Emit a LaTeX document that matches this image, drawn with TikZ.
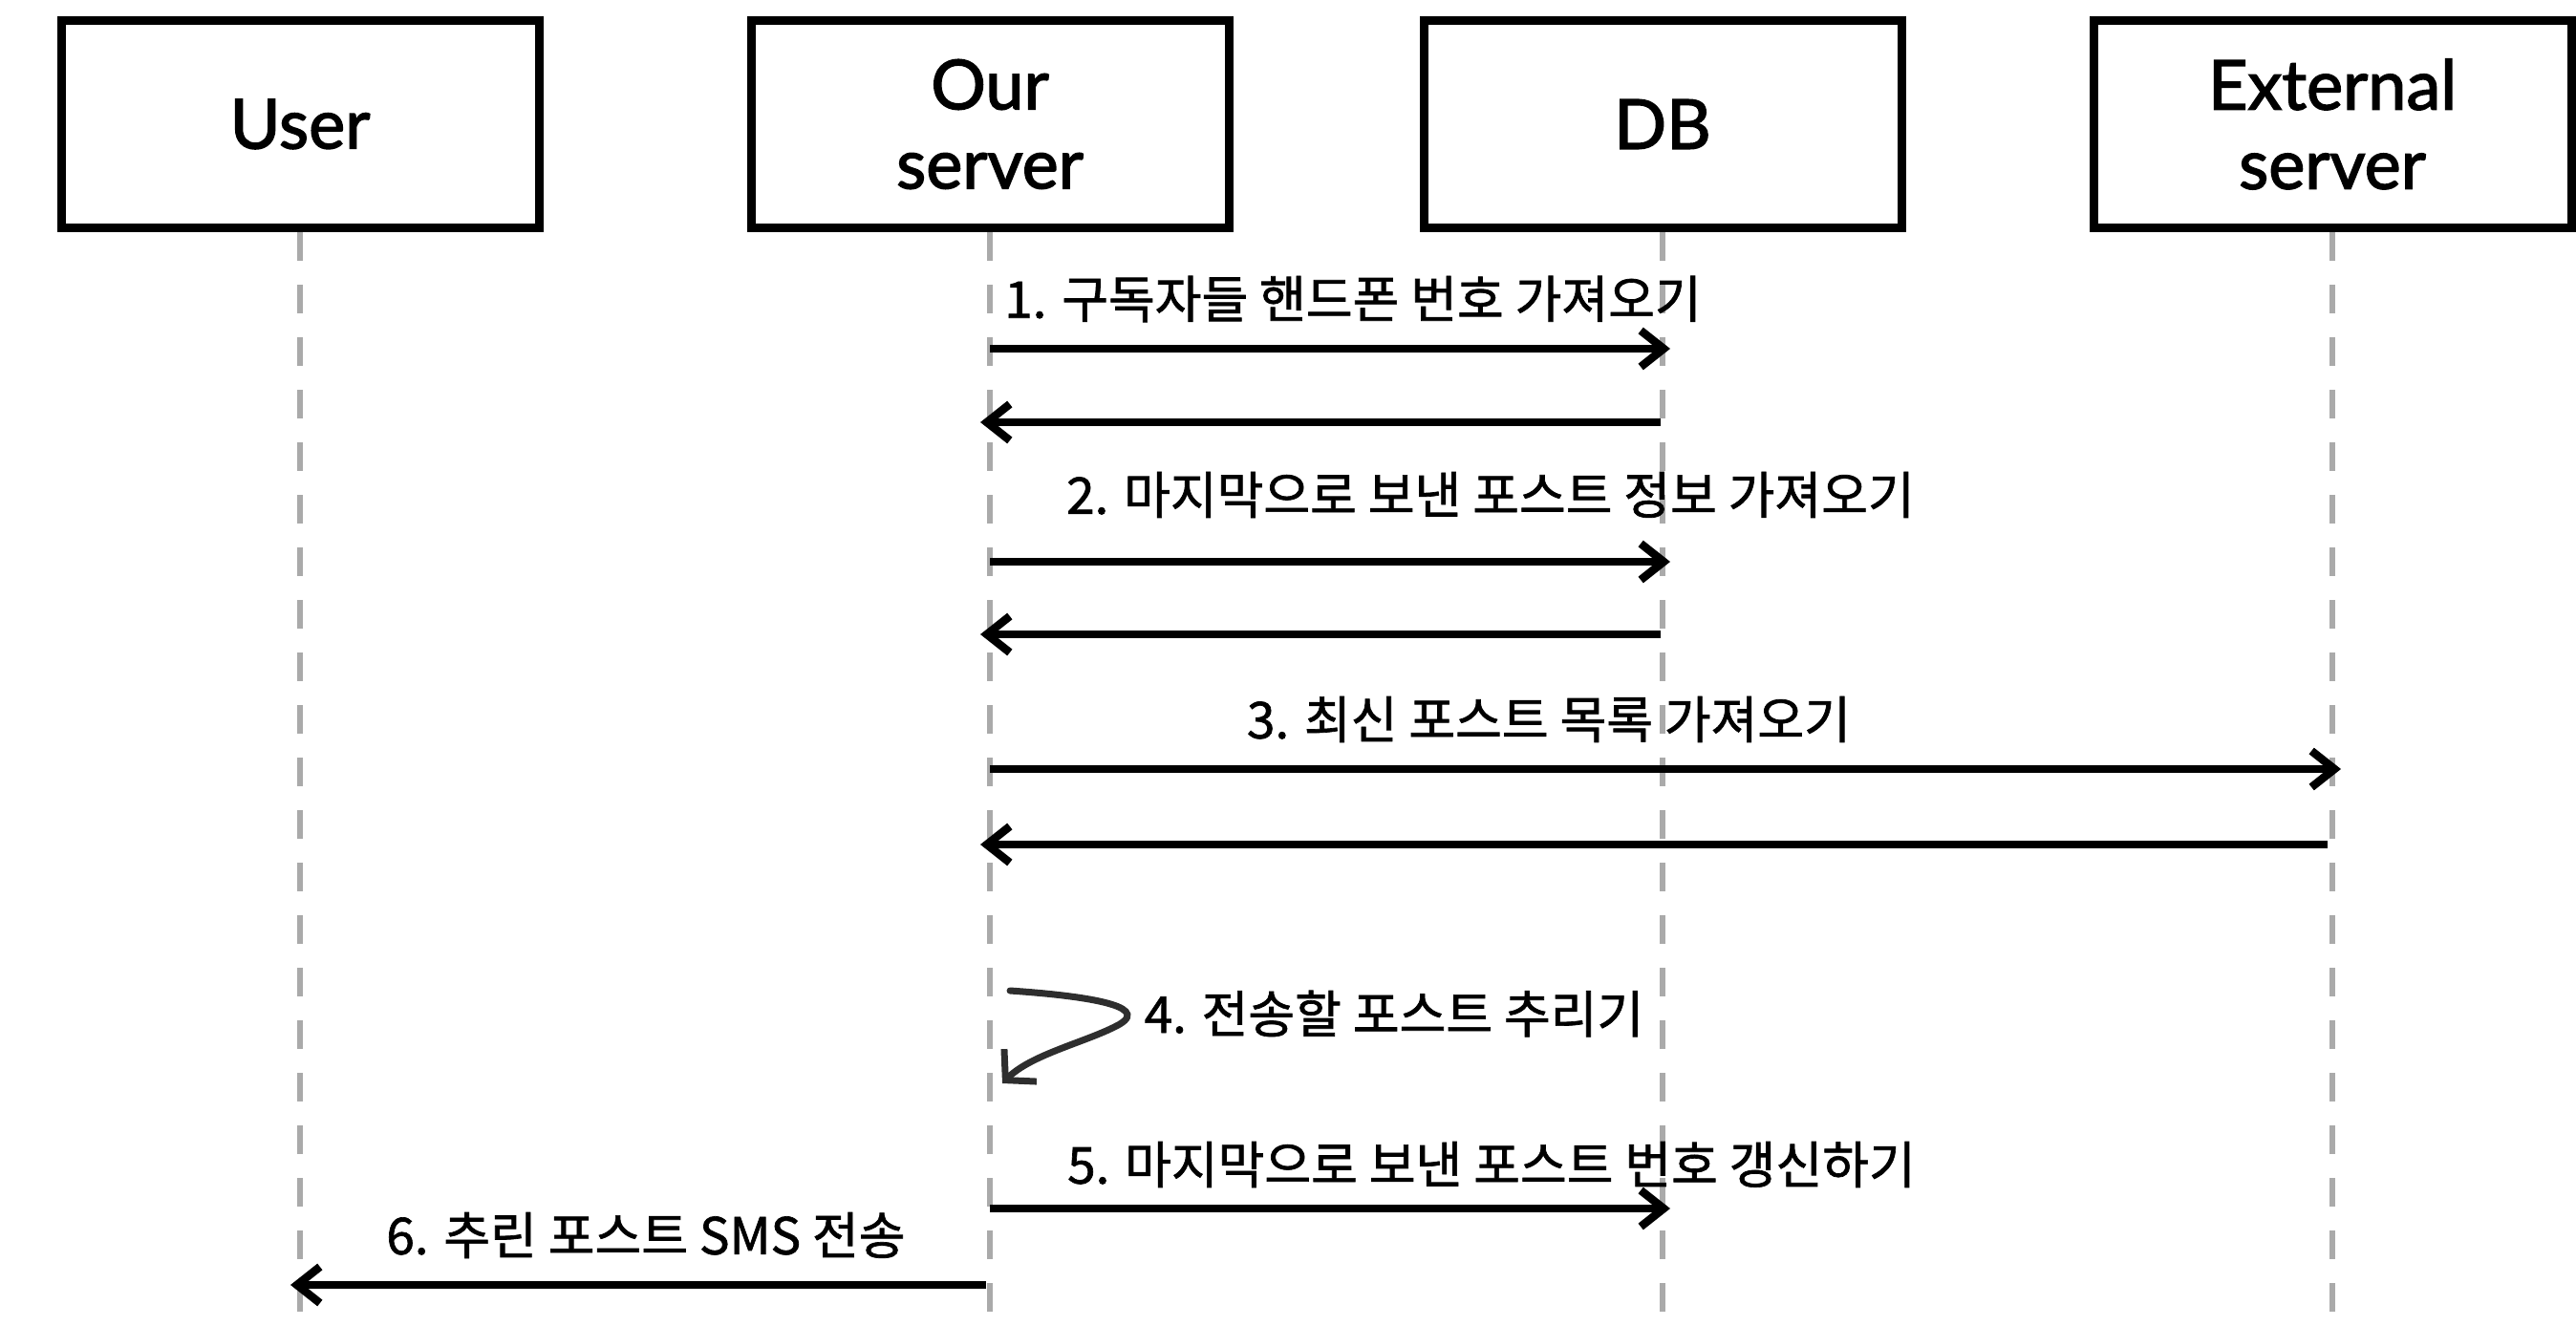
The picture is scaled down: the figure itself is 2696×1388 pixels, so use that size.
\documentclass[tikz,border=0pt]{standalone}
\usepackage{fontspec}
\setmainfont{Lato}[FakeBold=2]
\newfontfamily\krfont{Noto Sans CJK KR}[FakeBold=1.3]
\usetikzlibrary{arrows.meta}
\definecolor{lifegray}{HTML}{AAAAAA}
\definecolor{selfgray}{HTML}{2E2E2E}
\begin{document}
\begin{tikzpicture}[x=1pt,y=-1pt,
  actor/.style={draw=black, fill=white, line width=9pt, minimum width=500pt, minimum height=217pt,
    inner sep=0pt, align=center, font=\fontsize{72}{83}\selectfont},
  life/.style={draw=lifegray, line width=6pt, dash pattern=on 30pt off 25pt},
  msg/.style={line width=8.5pt, -{Straight Barb[length=24pt,width=38pt]}},
  selfmsg/.style={draw=selfgray, line width=7pt, line cap=round, -{Straight Barb[length=22pt,width=48pt]}},
  lbl/.style={font=\krfont\fontsize{53}{62}\selectfont, inner sep=0pt}]
\useasboundingbox (0,0) rectangle (2696,1388);

% lifelines
\coordinate (userEnd) at (314,1388);
\coordinate (ourEnd) at (1036,1388);
\coordinate (dbEnd) at (1740,1388);
\coordinate (extEnd) at (2441,1388);

\node[actor] (user) at (314,130) {User};
\node[actor] (our) at (1036,130) {Our\\server};
\node[actor] (db) at (1740,130) {DB};
\node[actor] (ext) at (2441,130) {External\\server};

\draw[life] (user.south) -- (userEnd);
\draw[life] (our.south) -- (ourEnd);
\draw[life] (db.south) -- (dbEnd);
\draw[life] (ext.south) -- (extEnd);

% message end points
\coordinate (m1a) at (1036,365);  \coordinate (m1b) at (1748,365);
\coordinate (m2a) at (1738,442);  \coordinate (m2b) at (1026,442);
\coordinate (m3a) at (1036,588);  \coordinate (m3b) at (1748,588);
\coordinate (m4a) at (1738,664);  \coordinate (m4b) at (1026,664);
\coordinate (m5a) at (1036,805);  \coordinate (m5b) at (2450,805);
\coordinate (m6a) at (2436,884);  \coordinate (m6b) at (1026,884);
\coordinate (m7a) at (1036,1265); \coordinate (m7b) at (1748,1265);
\coordinate (m8a) at (1032,1345); \coordinate (m8b) at (304,1345);
\coordinate (s1) at (1057,1037);
\coordinate (s2) at (1172,1072);
\coordinate (s3) at (1049,1134);

\draw[msg] (m1a) -- (m1b);
\draw[msg] (m2a) -- (m2b);
\draw[msg] (m3a) -- (m3b);
\draw[msg] (m4a) -- (m4b);
\draw[msg] (m5a) -- (m5b);
\draw[msg] (m6a) -- (m6b);
\draw[msg] (m7a) -- (m7b);
\draw[msg] (m8a) -- (m8b);
\draw[selfmsg] (s1) .. controls (1130,1042) and (1205,1052) .. (s2)
  .. controls (1140,1090) and (1080,1103) .. (s3);

% labels
\node[lbl] (l1) at (1416,313) {1. 구독자들 핸드폰 번호 가져오기};
\node[lbl] (l2) at (1560,518) {2. 마지막으로 보낸 포스트 정보 가져오기};
\node[lbl] (l3) at (1621,753) {3. 최신 포스트 목록 가져오기};
\node[lbl] (l4) at (1459,1061) {4. 전송할 포스트 추리기};
\node[lbl] (l5) at (1561,1219) {5. 마지막으로 보낸 포스트 번호 갱신하기};
\node[lbl] (l6) at (676,1293) {6. 추린 포스트 SMS 전송};
\end{tikzpicture}
\end{document}
